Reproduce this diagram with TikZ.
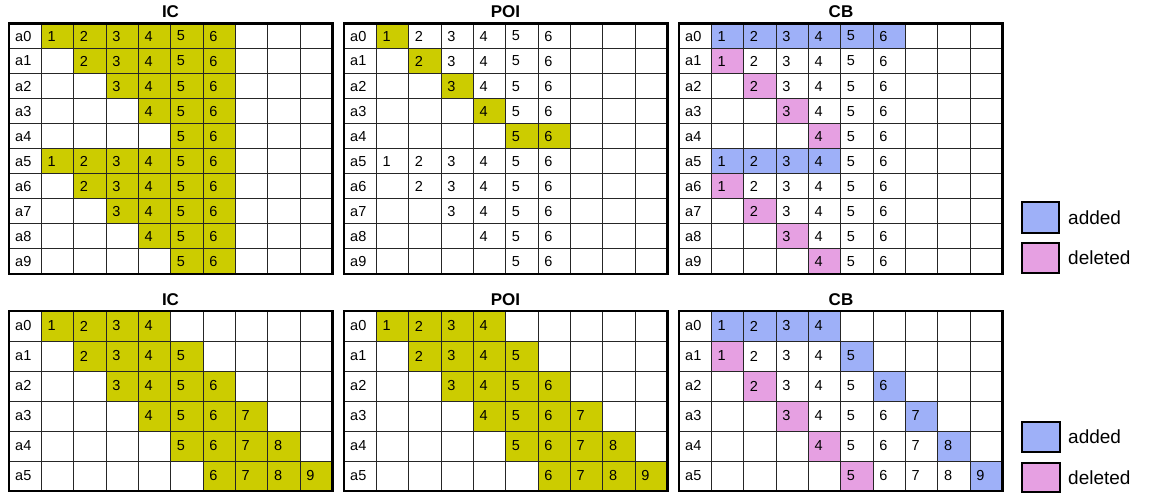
\documentclass[tikz,border=0pt]{standalone}
\usepackage{fontspec}
\setmainfont{Liberation Sans}
\definecolor{icy}{HTML}{CCCC00}
\definecolor{addb}{RGB}{158,176,248}
\definecolor{delp}{RGB}{230,160,226}
\newcommand{\cw}{32.35}
\newcommand{\fc}[3]{\fill[#3] ({#1*\cw},{#2*\ch}) rectangle ({(#1+1)*\cw},{(#2+1)*\ch});}
\newcommand{\tx}[3]{\node[celltext] at ({#1*\cw+6},{(#2+0.5)*\ch}) {#3};}
\newcommand{\gridbox}[1]{%
  \foreach \i in {1,...,9}{\draw[innerline] ({\i*\cw},0) -- ({\i*\cw},{#1*\ch});}
  \foreach \j in {1,...,#1}{\draw[innerline] (0,{\j*\ch}) -- ({10*\cw},{\j*\ch});}
  \draw[outerline] (0,0) rectangle ({10*\cw},{#1*\ch});
  \foreach \j in {1,...,#1}{\pgfmathtruncatemacro\k{\j-1}\node[celltext] at (6,{(\j-0.5)*\ch}) {a\k};}
}
\begin{document}
\begin{tikzpicture}[x=1pt,y=-1pt,
  celltext/.style={anchor=west,inner sep=0pt,font=\fontsize{14.5}{16}\selectfont},
  title/.style={font=\fontsize{17}{19}\selectfont\bfseries,inner sep=0pt},
  legtext/.style={anchor=west,inner sep=0pt,font=\fontsize{19}{21}\selectfont},
  legbox/.style={draw=black,line width=2.2pt},
  innerline/.style={draw=black!85,line width=1pt},
  outerline/.style={draw=black,line width=2.3pt},
  yel/.style={fill=icy},
  add/.style={fill=addb},
  del/.style={fill=delp}]
\useasboundingbox (0,0) rectangle (1160,496);

% ---------------- top row ----------------
\node[title] (t1) at (170.5,12) {IC};
\node[title] (t2) at (505.5,12) {POI};
\node[title] (t3) at (841,12) {CB};

% IC top
\begin{scope}[shift={(9,23.5)}]
\def\ch{25.05}
\foreach \r in {0,...,9}{
  \pgfmathtruncatemacro\s{mod(\r,5)+1}
  \foreach \c in {\s,...,6}{\fc{\c}{\r}{yel}}
}
\gridbox{10}
\foreach \r in {0,...,9}{
  \pgfmathtruncatemacro\s{mod(\r,5)+1}
  \foreach \c in {\s,...,6}{\tx{\c}{\r}{\c}}
}
\end{scope}

% POI top
\begin{scope}[shift={(344,23.5)}]
\def\ch{25.05}
\foreach \r in {0,...,3}{\pgfmathtruncatemacro\s{\r+1}\fc{\s}{\r}{yel}}
\fc{5}{4}{yel}\fc{6}{4}{yel}
\gridbox{10}
\foreach \r in {0,...,9}{
  \pgfmathtruncatemacro\s{mod(\r,5)+1}
  \foreach \c in {\s,...,6}{\tx{\c}{\r}{\c}}
}
\end{scope}

% CB top
\begin{scope}[shift={(679,23.5)}]
\def\ch{25.05}
\foreach \c in {1,...,6}{\fc{\c}{0}{add}}
\foreach \c in {1,...,4}{\fc{\c}{5}{add}}
\foreach \r in {1,...,4}{\fc{\r}{\r}{del}}
\foreach \r in {6,...,9}{\pgfmathtruncatemacro\s{\r-5}\fc{\s}{\r}{del}}
\gridbox{10}
\foreach \c in {1,...,6}{\tx{\c}{0}{\c}\tx{\c}{5}{\c}}
\foreach \r in {1,...,4}{\foreach \c in {\r,...,6}{\tx{\c}{\r}{\c}}}
\foreach \r in {6,...,9}{\pgfmathtruncatemacro\s{\r-5}\foreach \c in {\s,...,6}{\tx{\c}{\r}{\c}}}
\end{scope}

% legend top
\node[legbox,add,minimum width=37pt,minimum height=31pt,inner sep=0pt] (la1) at (1040.5,217.5) {};
\node[legbox,del,minimum width=37pt,minimum height=30pt,inner sep=0pt] (ld1) at (1040.5,258) {};
\node[legtext] (lat1) at (1068,217.5) {added};
\node[legtext] (ldt1) at (1068,258) {deleted};

% ---------------- bottom row ----------------
\node[title] (b1) at (170.5,299.5) {IC};
\node[title] (b2) at (505.5,299.5) {POI};
\node[title] (b3) at (841,299.5) {CB};

% IC bottom
\begin{scope}[shift={(9,311)}]
\def\ch{30}
\foreach \r in {0,...,5}{
  \pgfmathtruncatemacro\s{\r+1}\pgfmathtruncatemacro\e{\r+4}
  \foreach \c in {\s,...,\e}{\fc{\c}{\r}{yel}}
}
\gridbox{6}
\foreach \r in {0,...,5}{
  \pgfmathtruncatemacro\s{\r+1}\pgfmathtruncatemacro\e{\r+4}
  \foreach \c in {\s,...,\e}{\tx{\c}{\r}{\c}}
}
\end{scope}

% POI bottom
\begin{scope}[shift={(344,311)}]
\def\ch{30}
\foreach \r in {0,...,5}{
  \pgfmathtruncatemacro\s{\r+1}\pgfmathtruncatemacro\e{\r+4}
  \foreach \c in {\s,...,\e}{\fc{\c}{\r}{yel}}
}
\gridbox{6}
\foreach \r in {0,...,5}{
  \pgfmathtruncatemacro\s{\r+1}\pgfmathtruncatemacro\e{\r+4}
  \foreach \c in {\s,...,\e}{\tx{\c}{\r}{\c}}
}
\end{scope}

% CB bottom
\begin{scope}[shift={(679,311)}]
\def\ch{30}
\foreach \c in {1,...,4}{\fc{\c}{0}{add}}
\foreach \r in {1,...,5}{
  \pgfmathtruncatemacro\e{\r+4}
  \fc{\r}{\r}{del}\fc{\e}{\r}{add}
}
\gridbox{6}
\foreach \c in {1,...,4}{\tx{\c}{0}{\c}}
\foreach \r in {1,...,5}{
  \pgfmathtruncatemacro\e{\r+4}
  \foreach \c in {\r,...,\e}{\tx{\c}{\r}{\c}}
}
\end{scope}

% legend bottom
\node[legbox,add,minimum width=38pt,minimum height=30pt,inner sep=0pt] (la2) at (1041,437) {};
\node[legbox,del,minimum width=38pt,minimum height=29pt,inner sep=0pt] (ld2) at (1041,477.5) {};
\node[legtext] (lat2) at (1068,437) {added};
\node[legtext] (ldt2) at (1068,478) {deleted};
\end{tikzpicture}
\end{document}
